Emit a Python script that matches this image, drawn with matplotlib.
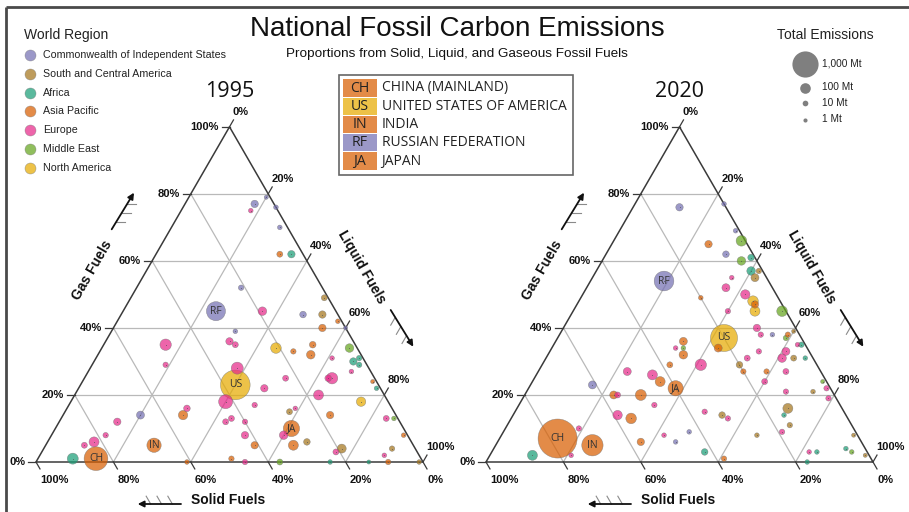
import numpy as np
import matplotlib
matplotlib.use("Agg")
import matplotlib.pyplot as plt
from matplotlib.patches import Rectangle, Polygon

plt.rcParams['font.family'] = ['Liberation Sans', 'DejaVu Sans']

DPI = 100
FIG_W, FIG_H = 909, 512

# ---------------------------------------------------------------- data
region_codes = ["CIS", "SCA", "AFR", "ASP", "EUR", "MDE", "NAM"]
region_names = ["Commonwealth of Independent States", "South and Central America",
                "Africa", "Asia Pacific", "Europe", "Middle East", "North America"]
region_colors = ["#7570b3", "#a6761d", "#1b9e77", "#d95f02", "#e7298a", "#66a61e", "#e6ab02"]

key_codes = ["CH", "US", "IN", "RF", "JA"]
key_names = ["CHINA (MAINLAND)", "UNITED STATES OF AMERICA", "INDIA",
             "RUSSIAN FEDERATION", "JAPAN"]
key_regions = ["ASP", "NAM", "ASP", "CIS", "ASP"]

# shares in percent, totals in Mt of carbon
key_solid_1995 = [84, 37, 67, 31, 29]
key_liquid_1995 = [15, 40, 28, 24, 61]
key_gas_1995 = [1, 23, 5, 45, 10]
key_total_1995 = [800, 1330, 230, 470, 320]

key_solid_2020 = [78, 20, 70, 27, 40]
key_liquid_2020 = [15, 43, 25, 19, 38]
key_gas_2020 = [7, 37, 5, 54, 22]
key_total_2020 = [2450, 1080, 620, 510, 270]

region_1995 = ["CIS", "EUR", "CIS", "CIS", "CIS", "ASP", "AFR", "CIS", "EUR", "SCA",
               "CIS", "SCA", "ASP", "ASP", "CIS", "CIS", "EUR", "EUR", "EUR", "EUR",
               "NAM", "ASP", "ASP", "ASP", "EUR", "MDE", "AFR", "AFR", "AFR", "EUR",
               "EUR", "EUR", "EUR", "EUR", "ASP", "AFR", "EUR", "EUR", "NAM", "EUR",
               "EUR", "SCA", "EUR", "ASP", "EUR", "MDE", "EUR", "ASP", "CIS", "EUR",
               "EUR", "EUR", "EUR", "EUR", "EUR", "ASP", "ASP", "SCA", "ASP", "SCA",
               "EUR", "EUR", "SCA", "EUR", "EUR", "EUR", "AFR", "ASP", "ASP", "EUR",
               "MDE", "AFR", "AFR", "ASP", "SCA"]
solid_1995 = [5, 7, 1, 0, 2, 6, 3, 21, 19, 1,
              9, 4, 6, 1, 0, 29, 49, 52, 32, 31,
              21, 17, 11, 13, 8, 2, 1, 3, 2, 5,
              34, 23, 11, 12, 1, 1, 30, 17, 7, 42,
              35, 27, 25, 17, 3, 1, 53, 55, 66, 73,
              45, 43, 40, 32, 42, 41, 31, 27, 1, 19,
              21, 9, 6, 78, 82, 85, 90, 61, 49, 46,
              37, 24, 14, 9, 1]
liquid_1995 = [18, 18, 20, 24, 28, 32, 35, 27, 36, 50,
               47, 52, 54, 57, 60, 32, 16, 19, 32, 34,
               45, 50, 54, 55, 61, 64, 68, 67, 69, 68,
               38, 52, 64, 63, 75, 77, 48, 63, 75, 40,
               48, 58, 59, 69, 84, 86, 31, 31, 20, 15,
               43, 44, 48, 60, 50, 54, 64, 67, 91, 77,
               76, 89, 90, 14, 12, 10, 9, 39, 50, 54,
               63, 76, 86, 91, 99]
gas_1995 = [77, 75, 79, 76, 70, 62, 62, 52, 45, 49,
            44, 44, 40, 42, 40, 39, 35, 29, 36, 35,
            34, 33, 35, 32, 31, 34, 31, 30, 29, 27,
            28, 25, 25, 25, 24, 22, 22, 20, 18, 18,
            17, 15, 16, 14, 13, 13, 16, 14, 14, 12,
            12, 13, 12, 8, 8, 5, 5, 6, 8, 4,
            3, 2, 4, 8, 6, 5, 1, 0, 1, 0,
            0, 0, 0, 0, 0]
total_1995 = [31, 3, 1, 3, 3, 13, 31, 8, 52, 13,
              20, 31, 31, 3, 1, 3, 123, 8, 31, 13,
              100, 8, 20, 52, 3, 52, 8, 31, 8, 3,
              143, 13, 123, 20, 1, 3, 31, 84, 69, 217,
              8, 13, 3, 31, 13, 3, 20, 69, 41, 31,
              13, 13, 8, 52, 31, 31, 84, 20, 3, 60,
              13, 3, 8, 8, 84, 13, 111, 3, 8, 8,
              13, 3, 1, 8, 3]

region_2020 = ["CIS", "CIS", "CIS", "MDE", "ASP", "CIS", "AFR", "MDE", "AFR", "SCA",
               "SCA", "EUR", "EUR", "ASP", "EUR", "NAM", "ASP", "NAM", "EUR", "MDE",
               "EUR", "EUR", "CIS", "ASP", "MDE", "SCA", "ASP", "ASP", "EUR", "MDE",
               "ASP", "EUR", "AFR", "AFR", "SCA", "EUR", "EUR", "EUR", "EUR", "EUR",
               "SCA", "ASP", "ASP", "EUR", "EUR", "SCA", "EUR", "MDE", "EUR", "SCA",
               "AFR", "SCA", "EUR", "SCA", "EUR", "AFR", "AFR", "AFR", "MDE", "SCA",
               "SCA", "ASP", "AFR", "SCA", "EUR", "EUR", "CIS", "CIS", "EUR", "ASP",
               "ASP", "EUR", "EUR", "ASP", "ASP", "EUR", "EUR", "ASP", "EUR", "CIS",
               "ASP", "EUR", "EUR", "AFR", "EUR"]
solid_2020 = [12, 0, 1, 1, 10, 7, 1, 4, 3, 1,
              3, 9, 12, 20, 8, 7, 7, 8, 15, 1,
              10, 10, 7, 3, 4, 1, 23, 31, 34, 32,
              33, 2, 1, 2, 5, 6, 8, 13, 17, 9,
              20, 20, 14, 16, 12, 5, 1, 1, 2, 14,
              16, 16, 19, 26, 15, 13, 17, 5, 4, 1,
              1, 38, 42, 32, 31, 36, 43, 48, 50, 57,
              56, 59, 48, 50, 43, 44, 50, 38, 30, 61,
              57, 56, 71, 87, 77]
liquid_2020 = [12, 23, 30, 33, 25, 31, 38, 36, 40, 42,
               42, 36, 36, 31, 42, 45, 46, 47, 40, 54,
               50, 52, 55, 59, 59, 60, 43, 33, 32, 34,
               35, 63, 64, 67, 64, 61, 61, 54, 52, 64,
               51, 53, 59, 60, 67, 74, 77, 75, 79, 70,
               70, 73, 72, 66, 82, 84, 83, 91, 93, 91,
               97, 61, 55, 54, 56, 49, 48, 46, 42, 37,
               31, 27, 35, 30, 33, 30, 23, 33, 41, 16,
               23, 24, 19, 11, 21]
gas_2020 = [76, 77, 69, 66, 65, 62, 61, 60, 57, 57,
            55, 55, 52, 49, 50, 48, 47, 45, 45, 45,
            40, 38, 38, 38, 37, 39, 34, 36, 34, 34,
            32, 35, 35, 31, 31, 33, 31, 33, 31, 27,
            29, 27, 27, 24, 21, 21, 22, 24, 19, 16,
            14, 11, 9, 8, 3, 3, 0, 4, 3, 8,
            2, 1, 3, 14, 13, 15, 9, 6, 8, 6,
            13, 14, 17, 20, 24, 26, 27, 29, 29, 23,
            20, 20, 10, 2, 2]
total_2020 = [31, 3, 3, 100, 31, 20, 20, 52, 52, 8,
              41, 3, 41, 3, 69, 100, 31, 84, 8, 100,
              31, 8, 3, 8, 8, 1, 41, 41, 3, 3,
              52, 3, 8, 3, 13, 41, 52, 8, 13, 13,
              20, 8, 8, 13, 8, 3, 8, 1, 8, 84,
              3, 8, 8, 3, 3, 3, 3, 3, 3, 1,
              1, 8, 20, 20, 8, 8, 3, 3, 3, 31,
              100, 69, 8, 111, 84, 84, 41, 13, 123, 41,
              41, 13, 8, 84, 3]

size_legend_values = [1000, 100, 10, 1]
size_legend_labels = ["1,000 Mt", "100 Mt", "10 Mt", "1 Mt"]

percent_ticks = [0, 20, 40, 60, 80, 100]

# ---------------------------------------------------------------- helpers
color_of = dict(zip(region_codes, region_colors))
ALPHA = 0.72
H = np.sqrt(3) / 2
TRI_PX = 387.0          # side of the triangle in pixels
PX = 1.0 / TRI_PX       # one pixel in ternary units


def radius_px(total):
    return 1.7 + 0.36 * np.sqrt(np.asarray(total, dtype=float))


def marker_area(total):
    r_pt = radius_px(total) * 72.0 / DPI
    return (2 * r_pt) ** 2


def to_xy(solid, liquid, gas):
    s = np.asarray(solid, float)
    l = np.asarray(liquid, float)
    g = np.asarray(gas, float)
    tot = s + l + g
    l, g = l / tot, g / tot
    return l + g / 2, g * H


fig = plt.figure(figsize=(FIG_W / DPI, FIG_H / DPI), dpi=DPI)

# full-figure pixel canvas for titles, legends and frame
canvas = fig.add_axes([0, 0, 1, 1])
canvas.set_xlim(0, FIG_W)
canvas.set_ylim(FIG_H, 0)
canvas.axis("off")


def ternary_axes(left_px, base_px):
    ax = fig.add_axes([left_px / FIG_W, (FIG_H - base_px) / FIG_H,
                       TRI_PX / FIG_W, TRI_PX * H / FIG_H])
    ax.set_xlim(0, 1)
    ax.set_ylim(0, H)
    ax.axis("off")
    ax.patch.set_alpha(0)
    return ax


def draw_frame(ax, year):
    grid_kw = dict(color="#b9b9b9", lw=0.9, zorder=1, solid_capstyle="butt")
    for t in [0.2, 0.4, 0.6, 0.8]:
        ax.plot([t / 2, 1 - t / 2], [t * H, t * H], **grid_kw)              # gas
        ax.plot([t, t + (1 - t) / 2], [0, (1 - t) * H], **grid_kw)          # liquid
        ax.plot([1 - t, (1 - t) / 2], [0, (1 - t) * H], **grid_kw)          # solid
    ax.add_patch(Polygon([[0, 0], [1, 0], [0.5, H]], closed=True, fill=False,
                         edgecolor="#3a3a3a", lw=1.1, zorder=2, clip_on=False))

    tick_kw = dict(color="#3a3a3a", lw=0.9, clip_on=False, zorder=2)
    lab_kw = dict(fontsize=8, fontweight="bold", color="#111111", clip_on=False)
    tl = 8 * PX
    for p in percent_ticks:
        f = p / 100
        # gas (left edge)
        x0, y0 = f / 2, f * H
        ax.plot([x0, x0 - tl], [y0, y0], **tick_kw)
        ax.text(x0 - 11 * PX, y0, f"{p}%", ha="right", va="center", **lab_kw)
        # liquid (right edge)
        x0, y0 = (1 + f) / 2, (1 - f) * H
        ax.plot([x0, x0 + tl * 0.5], [y0, y0 + tl * H], **tick_kw)
        ax.text(x0 + 3 * PX, y0 + 15 * PX, f"{p}%", ha="left", va="center", **lab_kw)
        # solid (bottom edge)
        x0 = 1 - f
        ax.plot([x0, x0 + tl * 0.5], [0, -tl * H], **tick_kw)
        ax.text(x0 + 4 * PX, -18 * PX, f"{p}%", ha="left", va="center", **lab_kw)

    title_kw = dict(fontsize=10, fontweight="bold", color="#111111",
                    ha="center", va="center", clip_on=False)
    ax.text(55.7 * PX, 191.5 * PX, "Gas Fuels", rotation=60, rotation_mode="anchor", **title_kw)
    ax.text(325.7 * PX, 194.5 * PX, "Liquid Fuels", rotation=-60, rotation_mode="anchor", **title_kw)
    ax.text(192 * PX, -38 * PX, "Solid Fuels", **title_kw)

    # direction arrows with short hatch marks parallel to each grid family
    arrows = [
        ((75.7, 232.7), (98.0, 269.3), (1.0, 0.0)),
        ((354.7, 152.0), (377.3, 115.3), (-0.5, -H)),
        ((145.0, -42.0), (101.7, -42.0), (-0.5, H)),
    ]
    for tail, head, hatch_dir in arrows:
        t = np.array(tail) * PX
        h = np.array(head) * PX
        ax.annotate("", xy=h, xytext=t, annotation_clip=False,
                    arrowprops=dict(arrowstyle="-|>", lw=1.3, color="#111111",
                                    mutation_scale=9, shrinkA=0, shrinkB=0))
        d = np.array(hatch_dir) * 9 * PX
        for frac in [0.2, 0.45, 0.7]:
            p0 = t + (h - t) * frac
            ax.plot([p0[0], p0[0] + d[0]], [p0[1], p0[1] + d[1]],
                    color="#8a8a8a", lw=0.8, clip_on=False)

    ax.text(0.5, H + 35 * PX, year, ha="center", va="center", fontsize=15.5,
            family=["Open Sans", "DejaVu Sans"], color="#111111", clip_on=False)


def draw_points(ax, regions, solid, liquid, gas, total,
                k_solid, k_liquid, k_gas, k_total):
    all_reg = list(regions) + list(key_regions)
    all_s = list(solid) + list(k_solid)
    all_l = list(liquid) + list(k_liquid)
    all_g = list(gas) + list(k_gas)
    all_t = np.array(list(total) + list(k_total), float)
    x, y = to_xy(all_s, all_l, all_g)
    order = np.argsort(-all_t)
    cols = [color_of[all_reg[i]] for i in order]
    ax.scatter(x[order], y[order], s=marker_area(all_t[order]), c=cols, alpha=ALPHA,
               edgecolors="#6f6f6f", linewidths=0.35, zorder=3, clip_on=False)
    ax.scatter(x, y, s=0.5, c="#555555", alpha=0.6, linewidths=0, zorder=4, clip_on=False)
    kx, ky = to_xy(k_solid, k_liquid, k_gas)
    for code, xi, yi in zip(key_codes, kx, ky):
        ax.text(xi, yi, code, ha="center", va="center", fontsize=7.5,
                family=["Open Sans", "DejaVu Sans"], color="#333333", zorder=5)


ax95 = ternary_axes(36, 462)
draw_frame(ax95, "1995")
draw_points(ax95, region_1995, solid_1995, liquid_1995, gas_1995, total_1995,
            key_solid_1995, key_liquid_1995, key_gas_1995, key_total_1995)

ax20 = ternary_axes(486, 462)
draw_frame(ax20, "2020")
draw_points(ax20, region_2020, solid_2020, liquid_2020, gas_2020, total_2020,
            key_solid_2020, key_liquid_2020, key_gas_2020, key_total_2020)

# ---------------------------------------------------------------- titles
canvas.text(457, 36, "National Fossil Carbon Emissions", ha="center", va="baseline",
            fontsize=20, color="#111111")
canvas.text(457, 57, "Proportions from Solid, Liquid, and Gaseous Fossil Fuels",
            ha="center", va="baseline", fontsize=9.7, color="#111111")

# outer frame (top and left rules)
canvas.plot([6, FIG_W], [7, 7], color="#4a4a4a", lw=2, solid_capstyle="butt")
canvas.plot([6, 6], [7, FIG_H], color="#4a4a4a", lw=2, solid_capstyle="butt")

# ---------------------------------------------------------------- region legend
canvas.text(24, 35, "World Region", ha="left", va="center", fontsize=10, color="#222222")
for i, (name, col) in enumerate(zip(region_names, region_colors)):
    yy = 55 + i * 18.8
    canvas.scatter([29.7], [yy], s=(2 * 5.5 * 0.72) ** 2, c=[col], alpha=ALPHA,
                   edgecolors="#7a7a7a", linewidths=0.35)
    canvas.text(43, yy, name, ha="left", va="center", fontsize=7.7, color="#222222")

# ---------------------------------------------------------------- size legend
canvas.text(825, 35, "Total Emissions", ha="center", va="center", fontsize=10, color="#222222")
size_y = [64, 87.5, 102.5, 119.5]
for val, lab, yy in zip(size_legend_values, size_legend_labels, size_y):
    canvas.scatter([805], [yy], s=marker_area(val), c="#7f7f7f", linewidths=0)
    canvas.text(822, yy, lab, ha="left", va="center", fontsize=7.3, color="#222222")

# ---------------------------------------------------------------- country key
canvas.add_patch(Rectangle((338.5, 75), 234, 100, fill=False, edgecolor="#666666", lw=1.2))
for i, (code, name, reg) in enumerate(zip(key_codes, key_names, key_regions)):
    cy = 88 + i * 18.25
    canvas.add_patch(Rectangle((342.5, cy - 8.7), 34, 17.4, facecolor=color_of[reg],
                               alpha=ALPHA, edgecolor="none"))
    canvas.text(359.5, cy, code, ha="center", va="center", fontsize=10.2,
                family=["Open Sans", "DejaVu Sans"], color="#222222")
    canvas.text(381.5, cy, name, ha="left", va="center", fontsize=10,
                family=["Open Sans", "DejaVu Sans"], color="#222222")

fig.savefig("out.png", dpi=DPI)
